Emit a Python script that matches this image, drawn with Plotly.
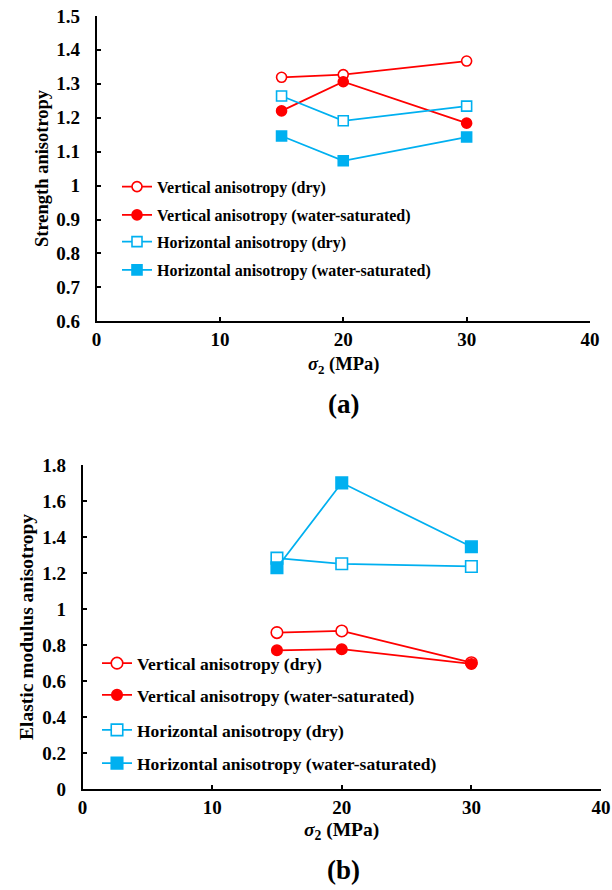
import plotly.graph_objects as go

# Confining stress sigma_2 (MPa)
sigma2 = [15, 20, 30]

# (a) Strength anisotropy
strength_vert_dry = [1.319, 1.327, 1.367]
strength_vert_wet = [1.220, 1.306, 1.184]
strength_hor_dry = [1.264, 1.191, 1.234]
strength_hor_wet = [1.146, 1.073, 1.143]

# (b) Elastic modulus anisotropy
modulus_vert_dry = [0.870, 0.879, 0.703]
modulus_vert_wet = [0.772, 0.778, 0.696]
modulus_hor_dry = [1.283, 1.252, 1.237]
modulus_hor_wet = [1.230, 1.701, 1.346]

series_names = [
    "Vertical anisotropy (dry)",
    "Vertical anisotropy (water-saturated)",
    "Horizontal anisotropy (dry)",
    "Horizontal anisotropy (water-saturated)",
]

x_ticks = [0, 10, 20, 30, 40]
x_ticktext = ["0", "10", "20", "30", "40"]
ya_ticks = [0.6, 0.7, 0.8, 0.9, 1.0, 1.1, 1.2, 1.3, 1.4, 1.5]
ya_ticktext = ["0.6", "0.7", "0.8", "0.9", "1", "1.1", "1.2", "1.3", "1.4", "1.5"]
yb_ticks = [0, 0.2, 0.4, 0.6, 0.8, 1.0, 1.2, 1.4, 1.6, 1.8]
yb_ticktext = ["0", "0.2", "0.4", "0.6", "0.8", "1", "1.2", "1.4", "1.6", "1.8"]

RED = "#FF0000"
BLUE = "#00B0F0"
FONT = "Liberation Serif"
W, H = 612, 890


def px(x):
    return x / W


def py(y):
    return 1 - y / H


styles = [
    dict(color=RED, symbol="circle", fill="white"),
    dict(color=RED, symbol="circle", fill=RED),
    dict(color=BLUE, symbol="square", fill="white"),
    dict(color=BLUE, symbol="square", fill=BLUE),
]

fig = go.Figure()

panels = [
    dict(xa="x", ya="y",
         data=[strength_vert_dry, strength_vert_wet, strength_hor_dry, strength_hor_wet],
         sizes=[10, 10, 10, 10], legend_start=1, font=16,
         leg_x=117, leg_y=[186.7, 215, 241.7, 270]),
    dict(xa="x2", ya="y2",
         data=[modulus_vert_dry, modulus_vert_wet, modulus_hor_dry, modulus_hor_wet],
         sizes=[11.5, 10.5, 11.5, 11.5], legend_start=5, font=17.5,
         leg_x=97, leg_y=[663.3, 695, 730, 763.3]),
]

layout_legends = {}
for p in panels:
    for i, (vals, st) in enumerate(zip(p["data"], styles)):
        lname = "legend" if p["legend_start"] + i == 1 else f"legend{p['legend_start'] + i}"
        fig.add_trace(go.Scatter(
            x=sigma2, y=vals, mode="lines+markers", name=series_names[i],
            xaxis=p["xa"], yaxis=p["ya"], legend=lname, showlegend=True,
            line=dict(color=st["color"], width=1.75),
            marker=dict(symbol=st["symbol"], size=p["sizes"][i], color=st["fill"],
                        line=dict(color=st["color"], width=1.6)),
        ))
        layout_legends[lname] = dict(
            x=px(p["leg_x"]), y=py(p["leg_y"][i]), xanchor="left", yanchor="middle",
            bgcolor="rgba(0,0,0,0)", borderwidth=0,
            font=dict(family=FONT, size=p["font"], color="black", weight="bold"),
            itemsizing="trace",
        )

axis_common = dict(
    showgrid=False, zeroline=False, showline=True, linecolor="black", linewidth=1.5,
    ticks="inside", ticklen=5, tickwidth=1.5, tickcolor="black",
    tickfont=dict(family=FONT, size=19, color="black", weight="bold"),
)

fig.update_layout(
    width=W, height=H, margin=dict(l=0, r=0, t=0, b=0, autoexpand=False),
    paper_bgcolor="white", plot_bgcolor="white", showlegend=True,
    xaxis=dict(axis_common, domain=[px(96.5), px(590)], range=[0, 40],
               tickvals=x_ticks, ticktext=x_ticktext, anchor="y"),
    yaxis=dict(axis_common, domain=[py(321.3), py(15.9)], range=[0.6, 1.5],
               tickvals=ya_ticks, ticktext=ya_ticktext, anchor="x", ticklabelstandoff=11),
    xaxis2=dict(axis_common, domain=[px(82.5), px(601)], range=[0, 40],
                tickvals=x_ticks, ticktext=x_ticktext, anchor="y2"),
    yaxis2=dict(axis_common, domain=[py(789.4), py(465)], range=[0, 1.8],
                tickvals=yb_ticks, ticktext=yb_ticktext, anchor="x2", ticklabelstandoff=11),
    **layout_legends,
)

title_font = dict(family=FONT, size=18.5, color="black", weight="bold")
annotations = [
    dict(text="Strength anisotropy", x=px(42), y=py(168), textangle=-90, font=title_font),
    dict(text="Elastic modulus anisotropy", x=px(26), y=py(627), textangle=-90,
         font=dict(title_font, size=19.5)),
    dict(text="<i>σ</i><sub>2</sub> (MPa)", x=px(343), y=py(366), font=title_font),
    dict(text="<i>σ</i><sub>2</sub> (MPa)", x=px(341), y=py(831), font=dict(title_font, size=19.5)),
    dict(text="(a)", x=px(343), y=py(404), font=dict(title_font, size=27)),
    dict(text="(b)", x=px(343), y=py(870), font=dict(title_font, size=27)),
]
for a in annotations:
    fig.add_annotation(xref="paper", yref="paper", showarrow=False,
                       xanchor="center", yanchor="middle", **a)

fig.write_html("out.html")
